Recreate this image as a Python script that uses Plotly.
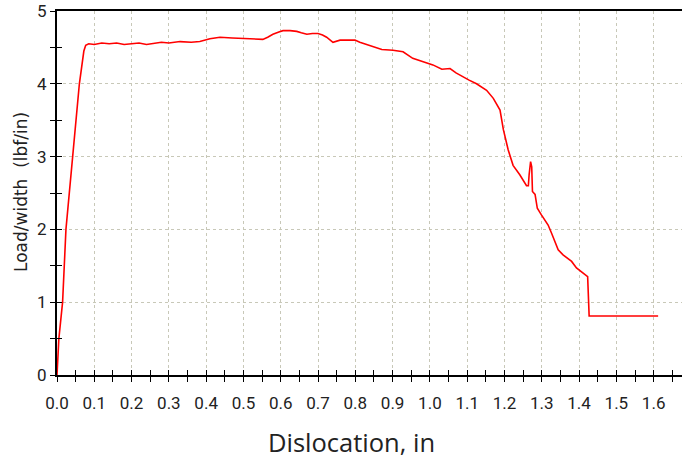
import plotly.graph_objects as go

# Dislocation (in) and Load/width (lbf/in)
disp = [0.0, 0.005, 0.015, 0.024, 0.042, 0.06, 0.072, 0.077, 0.085, 0.10, 0.12, 0.14, 0.16, 0.18,
        0.20, 0.22, 0.24, 0.26, 0.28, 0.30, 0.33, 0.36, 0.383, 0.41, 0.437, 0.47, 0.499, 0.525,
        0.552, 0.565, 0.579, 0.595, 0.606, 0.625, 0.643, 0.655, 0.670, 0.685, 0.700, 0.712,
        0.723, 0.740, 0.759, 0.78, 0.799, 0.812, 0.83, 0.847, 0.871, 0.901, 0.928, 0.954,
        0.981, 1.008, 1.032, 1.054, 1.07, 1.089, 1.105, 1.125, 1.152, 1.170, 1.188, 1.197,
        1.210, 1.223, 1.241, 1.259, 1.264, 1.266, 1.270, 1.273, 1.275, 1.282, 1.288, 1.299,
        1.317, 1.326, 1.344, 1.357, 1.380, 1.393, 1.420, 1.423, 1.427, 1.612]
load = [0.0, 0.5, 1.0, 2.0, 3.0, 4.0, 4.45, 4.53, 4.55, 4.54, 4.56, 4.55, 4.56, 4.54,
        4.55, 4.56, 4.54, 4.56, 4.57, 4.56, 4.58, 4.57, 4.58, 4.62, 4.64, 4.63, 4.62, 4.61,
        4.61, 4.64, 4.68, 4.71, 4.73, 4.73, 4.72, 4.70, 4.68, 4.69, 4.69, 4.67,
        4.64, 4.57, 4.60, 4.60, 4.60, 4.57, 4.54, 4.51, 4.47, 4.46, 4.44, 4.35,
        4.30, 4.26, 4.20, 4.21, 4.15, 4.09, 4.05, 4.00, 3.91, 3.80, 3.64, 3.37,
        3.09, 2.88, 2.75, 2.60, 2.60, 2.75, 2.93, 2.86, 2.52, 2.48, 2.29, 2.20,
        2.06, 1.95, 1.72, 1.65, 1.56, 1.47, 1.36, 1.35, 0.81, 0.81]

x_ticks = [round(i * 0.1, 1) for i in range(17)]
x_labels = [f"{v:.1f}" for v in x_ticks]
y_ticks = [0, 1, 2, 3, 4, 5]
y_labels = [str(v) for v in y_ticks]

XR = [0, 1.676]
YR = [0, 5]
TF = dict(family="Roboto, Liberation Sans Narrow, sans-serif", size=17, color="#222")

fig = go.Figure()
fig.add_trace(go.Scatter(x=disp, y=load, mode="lines",
                         line=dict(color="#ff0000", width=1.6), showlegend=False,
                         hoverinfo="skip"))
# invisible trace to anchor overlay axes (for inward tick halves)
fig.add_trace(go.Scatter(x=[0], y=[0], xaxis="x2", yaxis="y2", mode="markers",
                         marker=dict(opacity=0), showlegend=False, hoverinfo="skip"))

grid = dict(showgrid=True, gridcolor="#c8c8b8", griddash="dot", gridwidth=1)

fig.update_layout(
    width=682, height=458, autosize=False,
    margin=dict(l=57, r=0, t=11, b=83),
    paper_bgcolor="white", plot_bgcolor="white",
    xaxis=dict(range=XR, tickvals=x_ticks, ticktext=x_labels, ticks="outside",
               ticklen=5, tickwidth=1.3, tickcolor="black", showline=True,
               linecolor="black", linewidth=2, mirror=True, zeroline=False,
               tickfont=TF, ticklabelstandoff=7, automargin=False,
               minor=dict(dtick=0.05, tick0=0, ticks="outside", ticklen=5,
                          tickcolor="black", tickwidth=1.3, showgrid=False),
               **grid),
    yaxis=dict(range=YR, tickvals=y_ticks, ticktext=y_labels, ticks="outside",
               ticklen=5, tickwidth=1.3, tickcolor="black", showline=True,
               linecolor="black", linewidth=2, zeroline=False, tickfont=TF,
               ticklabelstandoff=0, automargin=False,
               minor=dict(dtick=0.5, tick0=0, ticks="outside", ticklen=5,
                          tickcolor="black", tickwidth=1.3, showgrid=False),
               **grid),
    xaxis2=dict(range=XR, overlaying="x", anchor="y2", showgrid=False, zeroline=False,
                tickvals=x_ticks, ticks="inside", ticklen=5, tickwidth=1.3,
                tickcolor="black", showticklabels=False, automargin=False,
                minor=dict(dtick=0.05, tick0=0, ticks="inside", ticklen=5,
                           tickcolor="black", tickwidth=1.3)),
    yaxis2=dict(range=YR, overlaying="y", anchor="x2", showgrid=False, zeroline=False,
                tickvals=y_ticks, ticks="inside", ticklen=5, tickwidth=1.3,
                tickcolor="black", showticklabels=False, automargin=False,
                minor=dict(dtick=0.5, tick0=0, ticks="inside", ticklen=5,
                           tickcolor="black", tickwidth=1.3)),
    annotations=[
        dict(text="Dislocation, in", xref="paper", yref="paper", x=(351 - 57) / 625,
             y=-0.132, xanchor="center", yanchor="top", showarrow=False,
             font=dict(family="Open Sans, sans-serif", size=25.5, color="#222")),
        dict(text="Load/width  (lbf/in)", xref="paper", yref="paper", x=(21 - 57) / 625,
             y=(375 - 192) / 364, xanchor="center", yanchor="middle", showarrow=False,
             textangle=-90,
             font=dict(family="DejaVu Sans, sans-serif", size=17, color="#222")),
    ],
)

fig.write_html(
    "out.html",
    config={"responsive": False, "displayModeBar": False},
    default_width="682px", default_height="458px",
    post_script="document.body.style.margin='0px';document.body.style.overflow='hidden';",
)
